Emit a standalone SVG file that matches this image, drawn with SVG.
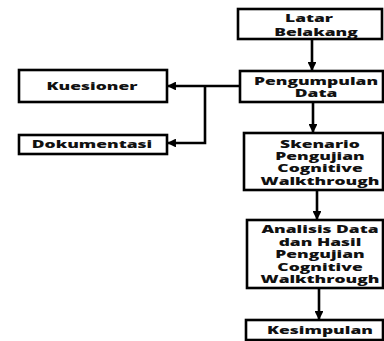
<svg xmlns="http://www.w3.org/2000/svg" width="384" height="341" viewBox="0 0 384 341">
<style>
.box{fill:#fff;stroke:#000;stroke-width:2.6}
.t{font-family:"Open Sans","Noto Sans","DejaVu Sans",sans-serif;font-weight:800;font-size:9.8px;fill:#111;text-anchor:middle}
.c{fill:none;stroke:#000;stroke-width:2.6}
</style>
<defs>
<marker id="ah" viewBox="0 0 10 10" refX="9" refY="5" markerWidth="3.4" markerHeight="3.4" orient="auto" markerUnits="strokeWidth">
<path d="M0,0 L10,5 L0,10 Z" fill="#000"/>
</marker>
</defs>
<rect width="384" height="341" fill="#fff"/>
<g id="connectors">
<line class="c" x1="312" y1="39" x2="312" y2="70" marker-end="url(#ah)"/>
<line class="c" x1="313" y1="102" x2="313" y2="132" marker-end="url(#ah)"/>
<line class="c" x1="317" y1="190" x2="317" y2="219" marker-end="url(#ah)"/>
<line class="c" x1="319" y1="288" x2="319" y2="319" marker-end="url(#ah)"/>
<line class="c" x1="240" y1="86" x2="168" y2="86" marker-end="url(#ah)"/>
<polyline class="c" points="205,86 205,143 168,143" marker-end="url(#ah)"/>
</g>
<g id="latar">
<rect class="box" x="238" y="9" width="144" height="30"/>
<text class="t" transform="translate(309,0) scale(1.78,1)" x="0" y="22">Latar</text>
<text class="t" transform="translate(316,0) scale(1.78,1)" x="0" y="36">Belakang</text>
</g>
<g id="pengumpulan">
<rect class="box" x="240" y="71" width="143" height="31"/>
<text class="t" transform="translate(316,0) scale(1.78,1)" x="0" y="85">Pengumpulan</text>
<text class="t" transform="translate(316,0) scale(1.78,1)" x="0" y="97.5">Data</text>
</g>
<g id="kuesioner">
<rect class="box" x="19" y="70" width="148" height="32"/>
<text class="t" transform="translate(92,0) scale(1.78,1)" x="0" y="90">Kuesioner</text>
</g>
<g id="dokumentasi">
<rect class="box" x="19" y="135" width="148" height="19"/>
<text class="t" transform="translate(92,0) scale(1.78,1)" x="0" y="148">Dokumentasi</text>
</g>
<g id="skenario">
<rect class="box" x="244" y="133" width="139" height="57"/>
<text class="t" transform="translate(320,0) scale(1.78,1)" x="0" y="148">Skenario</text>
<text class="t" transform="translate(320,0) scale(1.78,1)" x="0" y="160">Pengujian</text>
<text class="t" transform="translate(320,0) scale(1.78,1)" x="0" y="172.5">Cognitive</text>
<text class="t" transform="translate(320,0) scale(1.78,1)" x="0" y="185">Walkthrough</text>
</g>
<g id="analisis">
<rect class="box" x="247" y="220" width="136" height="68"/>
<text class="t" transform="translate(320,0) scale(1.78,1)" x="0" y="233.5">Analisis Data</text>
<text class="t" transform="translate(320,0) scale(1.78,1)" x="0" y="246">dan Hasil</text>
<text class="t" transform="translate(320,0) scale(1.78,1)" x="0" y="258.5">Pengujian</text>
<text class="t" transform="translate(320,0) scale(1.78,1)" x="0" y="271">Cognitive</text>
<text class="t" transform="translate(320,0) scale(1.78,1)" x="0" y="283.5">Walkthrough</text>
</g>
<g id="kesimpulan">
<rect class="box" x="246" y="320" width="137" height="20"/>
<text class="t" transform="translate(320,0) scale(1.78,1)" x="0" y="334">Kesimpulan</text>
</g>
</svg>
